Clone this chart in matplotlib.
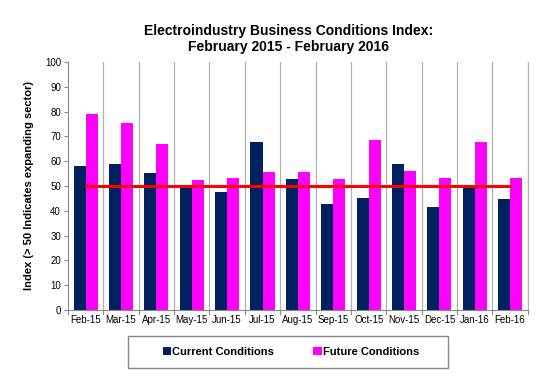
import matplotlib
matplotlib.use("Agg")
import matplotlib.pyplot as plt
from matplotlib.patches import Rectangle
import numpy as np

months = ["Feb-15", "Mar-15", "Apr-15", "May-15", "Jun-15", "Jul-15", "Aug-15",
          "Sep-15", "Oct-15", "Nov-15", "Dec-15", "Jan-16", "Feb-16"]
current = [58.2, 58.7, 55.1, 50.4, 47.6, 67.7, 52.7, 42.7, 45.2, 58.7, 41.7, 50.4, 44.6]
future = [79.2, 75.3, 67.1, 52.5, 53.1, 55.5, 55.5, 52.8, 68.7, 55.9, 53.2, 67.7, 53.1]
threshold = 50

plt.rcParams["font.family"] = ["Liberation Sans", "DejaVu Sans"]

fig = plt.figure(figsize=(5.55, 3.85), dpi=100)
ax = fig.add_axes([0.1225, 0.195, 0.8285, 0.644])

x = np.arange(len(months))
w = 0.34
navy = "#002060"
magenta = "#FF00FF"
b1 = ax.bar(x - w / 2, current, w, color=navy, label="Current Conditions")
b2 = ax.bar(x + w / 2, future, w, color=magenta, label="Future Conditions")
ax.plot([x[0], x[-1]], [threshold, threshold], color="#FF0000", linewidth=2.2, zorder=3)

# category separators
for b in np.arange(0.5, len(months), 1.0):
    ax.axvline(b, color="#B0B0B8", linewidth=0.9, zorder=0)

ax.set_xlim(-0.5, len(months) - 0.5)
ax.set_ylim(0, 100)
ax.set_yticks(range(0, 101, 10))
ax.set_xticks(x)
ax.set_xticklabels(months, fontsize=7)
ax.tick_params(axis="y", labelsize=7, length=3, color="#888888", pad=2)
ax.tick_params(axis="x", length=0, pad=4)
for b in np.arange(-0.5, len(months), 1.0):
    ax.plot([b, b], [0, -1.8], color="#888888", linewidth=0.8, clip_on=False)

ax.spines["top"].set_visible(False)
ax.spines["left"].set_color("#888888")
ax.spines["bottom"].set_color("#888888")
ax.spines["right"].set_color("#B0B0B8")

ax.set_ylabel("Index (> 50 Indicates expanding sector)", fontsize=8, fontweight="bold", labelpad=8)
fig.text(0.52, 0.898, "Electroindustry Business Conditions Index:\nFebruary 2015 - February 2016",
         ha="center", va="center", fontsize=10, fontweight="bold", linespacing=1.15)

# legend box
fig.patches.append(Rectangle((128 / 555, 1 - 368 / 385), 320 / 555, 32 / 385,
                             transform=fig.transFigure, fill=False,
                             edgecolor="#888888", linewidth=1))
fig.legend(handles=[b1, b2], loc="center", bbox_to_anchor=(291 / 555, 1 - 352 / 385),
           ncol=2, frameon=False, handlelength=0.75, handleheight=0.75,
           handletextpad=0.1, columnspacing=3.5, prop={"weight": "bold", "size": 8})

fig.savefig("out.png", dpi=100)
